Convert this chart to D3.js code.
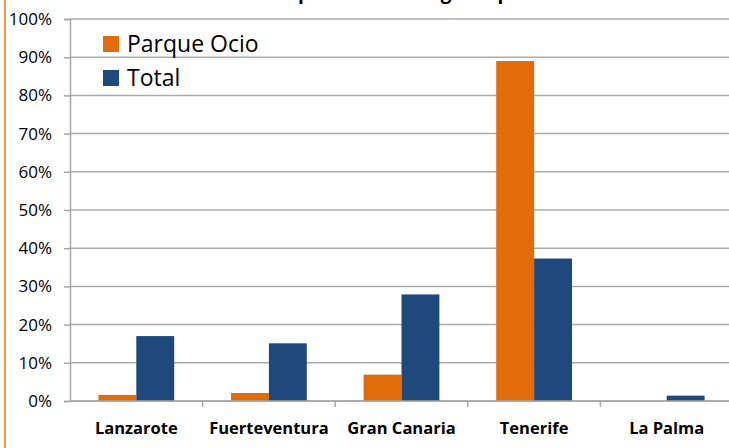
<!DOCTYPE html>
<html>
<head>
<meta charset="utf-8">
<script src="https://cdn.jsdelivr.net/npm/d3@7"></script>
<style>
  body { margin: 0; background: #fff; }
  svg { display: block; font-family: "Open Sans", Lato, sans-serif; }
</style>
</head>
<body>
<div id="chart"></div>
<script>

// data
var islas = ["Lanzarote", "Fuerteventura", "Gran Canaria", "Tenerife", "La Palma"];
var series = ["Parque Ocio", "Total"];
var parqueOcio = [1.6, 2.1, 6.9, 89.0, 0];
var total = [17.0, 15.1, 27.9, 37.3, 1.4];
var yTicks = [0, 10, 20, 30, 40, 50, 60, 70, 80, 90, 100];
var titulo = "Distribución porcentual del gasto por isla";

var colors = ["#E36C0A", "#1F497D"];

var W = 729, H = 448;
var margin = {top: 19, right: -4, bottom: 47, left: 70},
    width = W - margin.left - margin.right,
    height = H - margin.top - margin.bottom;

var svg = d3.select("#chart")
  .append("svg")
    .attr("width", W)
    .attr("height", H);

// chart frame edge on the left
svg.append("line")
    .attr("x1", 5).attr("x2", 5)
    .attr("y1", 0).attr("y2", H)
    .attr("stroke", "#F79646")
    .attr("stroke-width", 2);

// title, mostly cut off by the top of the picture
svg.append("text")
    .attr("x", 372)
    .attr("y", -1)
    .attr("text-anchor", "middle")
    .attr("font-weight", "bold")
    .attr("font-size", 19)
    .attr("fill", "#000")
    .text(titulo);

var g = svg.append("g")
    .attr("transform", "translate(" + margin.left + "," + margin.top + ")");

var rows = islas.map(function(d, i) {
  return {isla: d, values: [parqueOcio[i], total[i]]};
});

var x = d3.scaleBand()
    .domain(islas)
    .range([0, width]);

var xSub = d3.scaleBand()
    .domain(series)
    .range([0, x.bandwidth()])
    .paddingInner(0)
    .paddingOuter(0.75);

var y = d3.scaleLinear()
    .domain([0, 100])
    .range([height, 0]);

// gridlines
g.append("g")
  .selectAll("line")
  .data(yTicks)
  .enter().append("line")
    .attr("x1", 0)
    .attr("x2", W - margin.left)
    .attr("y1", function(d) { return y(d); })
    .attr("y2", function(d) { return y(d); })
    .attr("stroke", "#ababab")
    .attr("stroke-width", 1.5);

// bars
g.append("g")
  .selectAll("g")
  .data(rows)
  .enter().append("g")
    .attr("transform", function(d) { return "translate(" + x(d.isla) + ",0)"; })
  .selectAll("rect")
  .data(function(d) { return d.values.map(function(v, j) { return {s: series[j], v: v, j: j}; }); })
  .enter().append("rect")
    .attr("x", function(d) { return xSub(d.s); })
    .attr("y", function(d) { return y(d.v); })
    .attr("width", xSub.bandwidth())
    .attr("height", function(d) { return height - y(d.v); })
    .attr("fill", function(d) { return colors[d.j]; });

// y axis
var yAxis = g.append("g")
    .call(d3.axisLeft(y)
      .tickValues(yTicks)
      .tickSize(6)
      .tickPadding(12)
      .tickFormat(function(d) { return d + "%"; }));
yAxis.select(".domain").attr("stroke", "#a6a6a6").attr("stroke-width", 1.5);
yAxis.selectAll(".tick line").attr("stroke", "#a6a6a6").attr("stroke-width", 1.5);
yAxis.selectAll(".tick text")
    .attr("font-size", 17)
    .attr("fill", "#000")
    .attr("font-family", "'Open Sans', sans-serif");

// x axis baseline and ticks between categories
g.append("line")
    .attr("x1", 0).attr("x2", W - margin.left)
    .attr("y1", height).attr("y2", height)
    .attr("stroke", "#a6a6a6")
    .attr("stroke-width", 1.5);

g.append("g")
  .selectAll("line")
  .data(islas.slice(1))
  .enter().append("line")
    .attr("x1", function(d) { return x(d); })
    .attr("x2", function(d) { return x(d); })
    .attr("y1", height)
    .attr("y2", height + 6)
    .attr("stroke", "#a6a6a6")
    .attr("stroke-width", 1.5);

g.append("g")
  .selectAll("text")
  .data(islas)
  .enter().append("text")
    .attr("x", function(d) { return x(d) + x.bandwidth() / 2; })
    .attr("y", height + 33)
    .attr("text-anchor", "middle")
    .attr("font-weight", "bold")
    .attr("font-size", 16.5)
    .text(function(d) { return d; });

// legend
var legend = svg.append("g")
    .attr("transform", "translate(103,36)");

var item = legend.selectAll("g")
  .data(series)
  .enter().append("g")
    .attr("transform", function(d, i) { return "translate(0," + (i * 34) + ")"; });

item.append("rect")
    .attr("width", 16)
    .attr("height", 16)
    .attr("fill", function(d, i) { return colors[i]; });

item.append("text")
    .attr("x", 24)
    .attr("y", 16)
    .attr("font-size", 23)
    .text(function(d) { return d; });

</script>
</body>
</html>
